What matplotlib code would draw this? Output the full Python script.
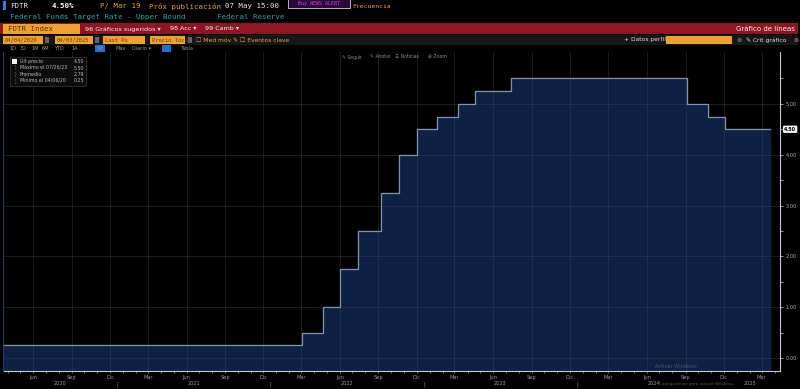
import matplotlib
matplotlib.use('Agg')
import matplotlib.pyplot as plt
import matplotlib.dates as mdates
from matplotlib.patches import Rectangle
import pandas as pd
import numpy as np

# Federal funds target rate, upper bound (step changes)
fechas = ['2020-04-04', '2022-03-17', '2022-05-05', '2022-06-16', '2022-07-28',
          '2022-09-22', '2022-11-03', '2022-12-15', '2023-02-02', '2023-03-23',
          '2023-05-04', '2023-07-27', '2024-09-19', '2024-11-08', '2024-12-19',
          '2025-04-03']
tasas = [0.25, 0.50, 1.00, 1.75, 2.50, 3.25, 4.00, 4.50, 4.75, 5.00,
         5.25, 5.50, 5.00, 4.75, 4.50, 4.50]

meses = ['Jun', 'Sep', 'Dic', 'Mar']
anios = ['2020', '2021', '2022', '2023', '2024', '2025']
y_ticks = [0, 1, 2, 3, 4, 5]

leyenda_txt = ['Últ precio', 'Máximo el 07/26/23', 'Promedio', 'Mínimo el 04/06/20']
leyenda_val = ['4.50', '5.50', '2.79', '0.25']

W, H = 800, 389
fig = plt.figure(figsize=(8, 3.89), dpi=100)
fig.patch.set_facecolor('black')


def fx(x):
    return x / W


def fy(y):
    return 1 - y / H


def caja(x0, y0, x1, y1, color, ec='none', lw=0.5):
    fig.patches.append(Rectangle((fx(x0), fy(y1)), fx(x1 - x0), (y1 - y0) / H,
                                 transform=fig.transFigure, facecolor=color,
                                 edgecolor=ec, linewidth=lw, zorder=1))


def txt(x, y, s, color, size=5.3, ha='left', fam='DejaVu Sans Mono', **kw):
    fig.text(fx(x), fy(y), s, color=color, fontsize=size, ha=ha, va='center',
             family=fam, zorder=3, **kw)


# ---- header (Bloomberg style) ----
caja(3, 1, 6, 10, '#2f7fe0')
txt(10, 6, 'FDTR', '#e8e8e8')
txt(52, 6, '4.50%', '#ffffff', weight='bold')
txt(100, 6, 'P/ Mar 19', '#e8a33c')
txt(149, 6, 'Próx publicación', '#e8a33c')
txt(225, 6, '07 May 15:00', '#e8e8e8')
txt(352, 6.5, 'Frecuencia', '#e8a33c', size=4.6)
caja(288, -1, 350, 8, '#2a0a3a', ec='#d0d0d0', lw=0.6)
txt(319, 3.5, 'Buy NEWS ALERT', '#d040e0', size=3.6, ha='center')
txt(10, 17, 'Federal Funds Target Rate - Upper Bound', '#2aa8a8')
txt(217, 17, 'Federal Reserve', '#2aa8a8')

caja(0, 23, 798, 34, '#8e1521')
caja(3, 24, 80, 34, '#f0a030')
txt(8, 29, 'FDTR Index', '#5a3200')
txt(85, 29, '96 Gráficos sugeridos ▾', '#f2f2f2', size=4.6, fam='DejaVu Sans')
txt(170, 29, '98 Acc ▾', '#f2f2f2', size=4.6, fam='DejaVu Sans')
txt(205, 29, '99 Camb ▾', '#f2f2f2', size=4.6, fam='DejaVu Sans')
txt(795, 29, 'Gráfico de líneas', '#f2f2f2', size=5.0, ha='right', fam='DejaVu Sans')

caja(0, 35, 798, 45, '#171717')
for x0, x1, s in [(3, 43, '04/04/2020'), (55, 93, '04/03/2025'),
                  (103, 145, 'Last Px'), (150, 185, 'Precio local')]:
    caja(x0, 36, x1, 44, '#f0a030')
    txt(x0 + 2, 40, s, '#6a4000', size=4)
for xb in [45, 95, 188]:
    caja(xb, 37, xb + 4, 43, '#666666')
txt(196, 40, '☐ Med móv ✎', '#e8a33c', size=4.3, fam='DejaVu Sans')
txt(240, 40, '☐ Eventos clave', '#e8a33c', size=4.3, fam='DejaVu Sans')
txt(624, 40, '+ Datos perfil', '#dddddd', size=4.3, fam='DejaVu Sans')
caja(666, 36, 732, 44, '#f0a030')
txt(736, 40, '⚙', '#aaaaaa', size=4.3, fam='DejaVu Sans')
txt(746, 40, '✎ Crit gráfico', '#dddddd', size=4.3, fam='DejaVu Sans')
txt(793, 40, '⚙', '#aaaaaa', size=4.3, fam='DejaVu Sans')

xs = [10, 20, 31, 42, 54, 72, 97, 116, 132]
for x, s in zip(xs, ['1D', '3D', '1M', '6M', 'YTD', '1A', '5A', 'Máx', 'Diario ▾']):
    if s == '5A':
        caja(x - 2, 45.5, x + 8, 51.5, '#1d6fd8')
    txt(x, 48.5, s, '#9a9a9a', size=3.6, fam='DejaVu Sans')
caja(162, 45.5, 171, 51.5, '#1d6fd8')
txt(180, 48.5, 'Tabla', '#9a9a9a', size=3.6, fam='DejaVu Sans')

for x, s in [(342, '✎ Seguir'), (370, '✎ Anotar'), (395, '☰ Noticias'), (428, '⊕ Zoom')]:
    txt(x, 57, s, '#8a8a8a', size=3.3, fam='DejaVu Sans')

# ---- chart ----
ax = fig.add_axes([fx(3), fy(371), fx(777), (371 - 52) / H])
ax.set_facecolor('black')

d = pd.to_datetime(fechas)
ax.fill_between(d, tasas, -1, step='post', color='#0c2144', zorder=1)
ax.step(d, tasas, where='post', color='#8593a8', lw=0.9, zorder=3)

x0 = pd.Timestamp('2020-04-04')
x1 = pd.Timestamp('2025-04-28')
ax.set_xlim(x0, x1)
ax.set_ylim(-0.256, 6.02)

# ticks de meses a mitad de mes
t_meses = pd.date_range('2020-06-01', '2025-03-01', freq='3MS') + pd.Timedelta(days=14)
ax.set_xticks(t_meses)
ax.set_xticklabels([meses[i % 4] for i in range(len(t_meses))])
ax.xaxis.set_minor_locator(mdates.MonthLocator(bymonthday=15))
ax.tick_params(axis='x', which='both', colors='#9a9a9a', labelsize=3.6,
               length=1.5, width=0.5, pad=1.5, direction='out')
ax.grid(axis='x', color='#3a4150', lw=0.5, alpha=0.6, zorder=2)

ax.yaxis.tick_right()
ax.set_yticks(y_ticks)
ax.set_yticklabels(['%.2f' % v for v in y_ticks])
ax.set_yticks(np.arange(0.5, 6, 1.0), minor=True)
ax.tick_params(axis='y', which='both', colors='#b0b0b0', labelsize=3.6,
               length=2, width=0.6, pad=2, direction='out')
ax.grid(axis='y', which='major', color='#3a4150', lw=0.5, alpha=0.6, zorder=2)

for s in ['top', 'left']:
    ax.spines[s].set_visible(False)
ax.spines['right'].set_color('#c8c8c8')
ax.spines['bottom'].set_color('#c8c8c8')
ax.spines['right'].set_linewidth(0.8)
ax.spines['bottom'].set_linewidth(0.8)
fig.lines.append(plt.Line2D([fx(3), fx(3)], [fy(371), fy(52)], transform=fig.transFigure,
                            color='#1b3c6a', lw=0.8))

# años debajo del eje
for i, a in enumerate(anios):
    ini = max(pd.Timestamp(a + '-01-01'), x0)
    fin = min(pd.Timestamp(a + '-12-31'), pd.Timestamp('2025-04-03'))
    centro = ini + (fin - ini) / 2
    ax.annotate(a, xy=(centro, 0), xycoords=('data', 'axes fraction'),
                xytext=(0, -7.5), textcoords='offset points', ha='center', va='top',
                color='#9a9a9a', fontsize=3.6)
    if i > 0 and a != '2025':
        ax.annotate('|', xy=(pd.Timestamp(a + '-01-01'), 0), xycoords=('data', 'axes fraction'),
                    xytext=(0, -7.5), textcoords='offset points', ha='center', va='top',
                    color='#9a9a9a', fontsize=3.6)

# etiqueta del último valor
ax.annotate('4.50', xy=(1, tasas[-1]), xycoords=('axes fraction', 'data'),
            xytext=(3, 0), textcoords='offset points', ha='left', va='center',
            color='black', fontsize=3.4, weight='bold',
            bbox=dict(boxstyle='round,pad=0.25', fc='#f0f0f0', ec='none'))

# leyenda
caja(10, 57, 86, 86, '#0d0d0d', ec='#3a3a3a', lw=0.5)
for i, (t, v) in enumerate(zip(leyenda_txt, leyenda_val)):
    y = 61.5 + i * 6.5
    if i == 0:
        caja(12, y - 2.5, 17, y + 2.5, '#f4f4f4')
    else:
        txt(14, y, '¦', '#888888', size=3.4, fam='DejaVu Sans')
    txt(20, y, t, '#b8b8b8', size=3.4, fam='DejaVu Sans')
    txt(84, y, v, '#b8b8b8', size=3.4, ha='right', fam='DejaVu Sans')

# marca de agua
txt(655, 366, 'Activar Windows', '#4a5566', size=3.6, fam='DejaVu Sans')
txt(659, 384, 'Configuración para activar Windows.', '#5a5a5a', size=3.0, fam='DejaVu Sans')

fig.savefig('out.png', dpi=100, facecolor='black')
